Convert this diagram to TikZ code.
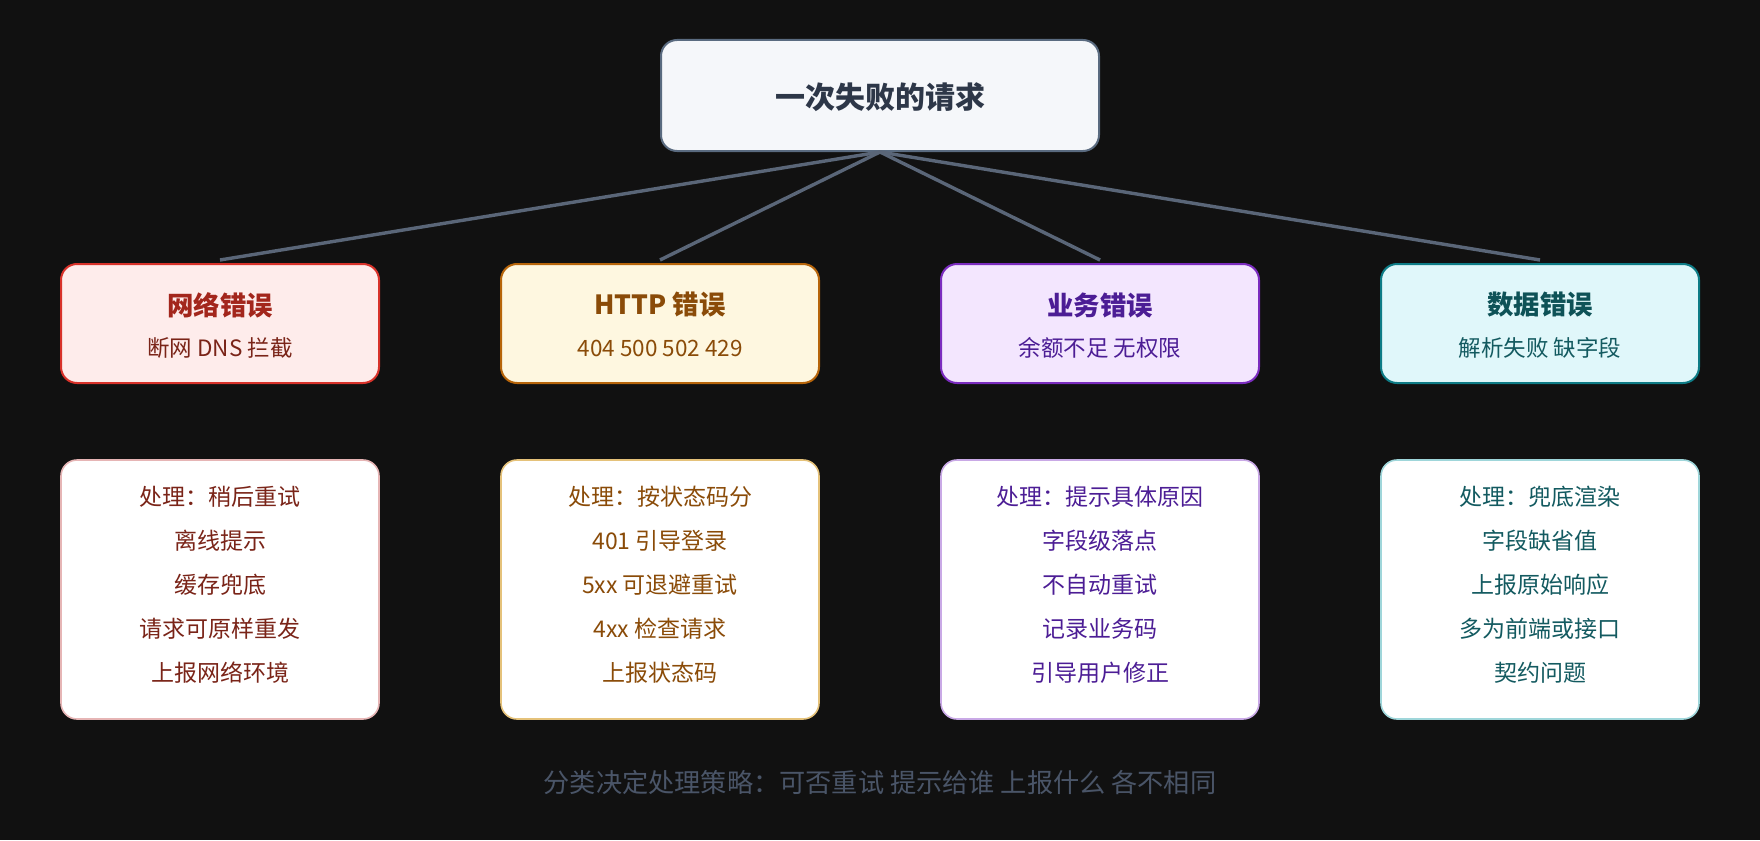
\documentclass[tikz,border=0pt]{standalone}
\usepackage{fontspec}
\setmainfont{Noto Sans CJK SC}
\definecolor{bg}{HTML}{111111}
\definecolor{topfill}{HTML}{F5F7FA}
\definecolor{topdraw}{HTML}{5A6B80}
\definecolor{toptext}{HTML}{2D3748}
\definecolor{conn}{HTML}{5A6678}
\definecolor{footc}{HTML}{4A5568}
\definecolor{rdraw}{HTML}{D8322A}\definecolor{rfill}{HTML}{FEECEB}\definecolor{rtitle}{HTML}{A3261C}\definecolor{rtext}{HTML}{7A2418}\definecolor{rlow}{HTML}{E6B5B5}
\definecolor{ydraw}{HTML}{B7650A}\definecolor{yfill}{HTML}{FEF7E0}\definecolor{ytitle}{HTML}{8A4B08}\definecolor{ytext}{HTML}{8A4B08}\definecolor{ylow}{HTML}{E5C27A}
\definecolor{pdraw}{HTML}{7B2CBF}\definecolor{pfill}{HTML}{F3E6FE}\definecolor{ptitle}{HTML}{4C1D95}\definecolor{ptext}{HTML}{4C1D95}\definecolor{plow}{HTML}{C9A9E6}
\definecolor{tdraw}{HTML}{0E7C86}\definecolor{tfill}{HTML}{E0F7FA}\definecolor{ttitle}{HTML}{0E5257}\definecolor{ttext}{HTML}{135A60}\definecolor{tlow}{HTML}{9FD6DA}
\begin{document}
\begin{tikzpicture}[x=1pt,y=-1pt,
  topbox/.style={draw=topdraw,fill=topfill,line width=2pt,rounded corners=16pt,minimum width=438pt,minimum height=111pt,inner sep=0pt},
  catbox/.style={line width=2pt,rounded corners=16pt,minimum width=318pt,minimum height=119pt,inner sep=0pt},
  lowbox/.style={fill=white,line width=1.6pt,rounded corners=16pt,minimum width=318pt,minimum height=259pt,inner sep=0pt},
  cattitle/.style={font=\fontsize{26.4}{30}\selectfont\bfseries,inner sep=0pt},
  catsub/.style={font=\fontsize{22.5}{26}\selectfont,inner sep=0pt},
  lowtext/.style={font=\fontsize{23}{44}\selectfont,align=center,inner sep=0pt},
  link/.style={draw=conn,line width=3.4pt}]
\fill[bg] (0,0) rectangle (1760,840);
\useasboundingbox (0,0) rectangle (1760,840);
\node[topbox] (top) at (880,95.5) {};
\node[font=\fontsize{30}{34}\selectfont\bfseries,text=toptext,inner sep=0pt] (toptitle) at (880,97) {一次失败的请求};
% category boxes
\node[catbox,draw=rdraw,fill=rfill] (c1) at (220,323.5) {};
\node[catbox,draw=ydraw,fill=yfill] (c2) at (660,323.5) {};
\node[catbox,draw=pdraw,fill=pfill] (c3) at (1100,323.5) {};
\node[catbox,draw=tdraw,fill=tfill] (c4) at (1540,323.5) {};
\node[cattitle,text=rtitle] (t1) at (220,305) {网络错误};
\node[cattitle,text=ytitle] (t2) at (660,305) {HTTP 错误};
\node[cattitle,text=ptitle] (t3) at (1100,305) {业务错误};
\node[cattitle,text=ttitle] (t4) at (1540,305) {数据错误};
\node[catsub,text=rtext] (s1) at (220,348) {断网 DNS 拦截};
\node[catsub,text=ytext] (s2) at (660,348) {404 500 502 429};
\node[catsub,text=ptext] (s3) at (1100,348) {余额不足 无权限};
\node[catsub,text=ttext] (s4) at (1540,348) {解析失败 缺字段};
% lower boxes
\node[lowbox,draw=rlow] (l1) at (220,589.5) {};
\node[lowbox,draw=ylow] (l2) at (660,589.5) {};
\node[lowbox,draw=plow] (l3) at (1100,589.5) {};
\node[lowbox,draw=tlow] (l4) at (1540,589.5) {};
\node[lowtext,text=rtext] (x1) at (220,584.5) {处理：稍后重试\\离线提示\\缓存兜底\\请求可原样重发\\上报网络环境};
\node[lowtext,text=ytext] (x2) at (660,584.5) {处理：按状态码分\\401 引导登录\\5xx 可退避重试\\4xx 检查请求\\上报状态码};
\node[lowtext,text=ptext] (x3) at (1100,584.5) {处理：提示具体原因\\字段级落点\\不自动重试\\记录业务码\\引导用户修正};
\node[lowtext,text=ttext] (x4) at (1540,584.5) {处理：兜底渲染\\字段缺省值\\上报原始响应\\多为前端或接口\\契约问题};
% connectors
\foreach \i in {1,2,3,4}{
  \draw[link] (top.south) -- ([yshift=3pt]c\i.north);
}
\node[font=\fontsize{26.2}{30}\selectfont,text=footc,inner sep=0pt] (foot) at (880,782) {分类决定处理策略：可否重试 提示给谁 上报什么 各不相同};
\end{tikzpicture}
\end{document}
